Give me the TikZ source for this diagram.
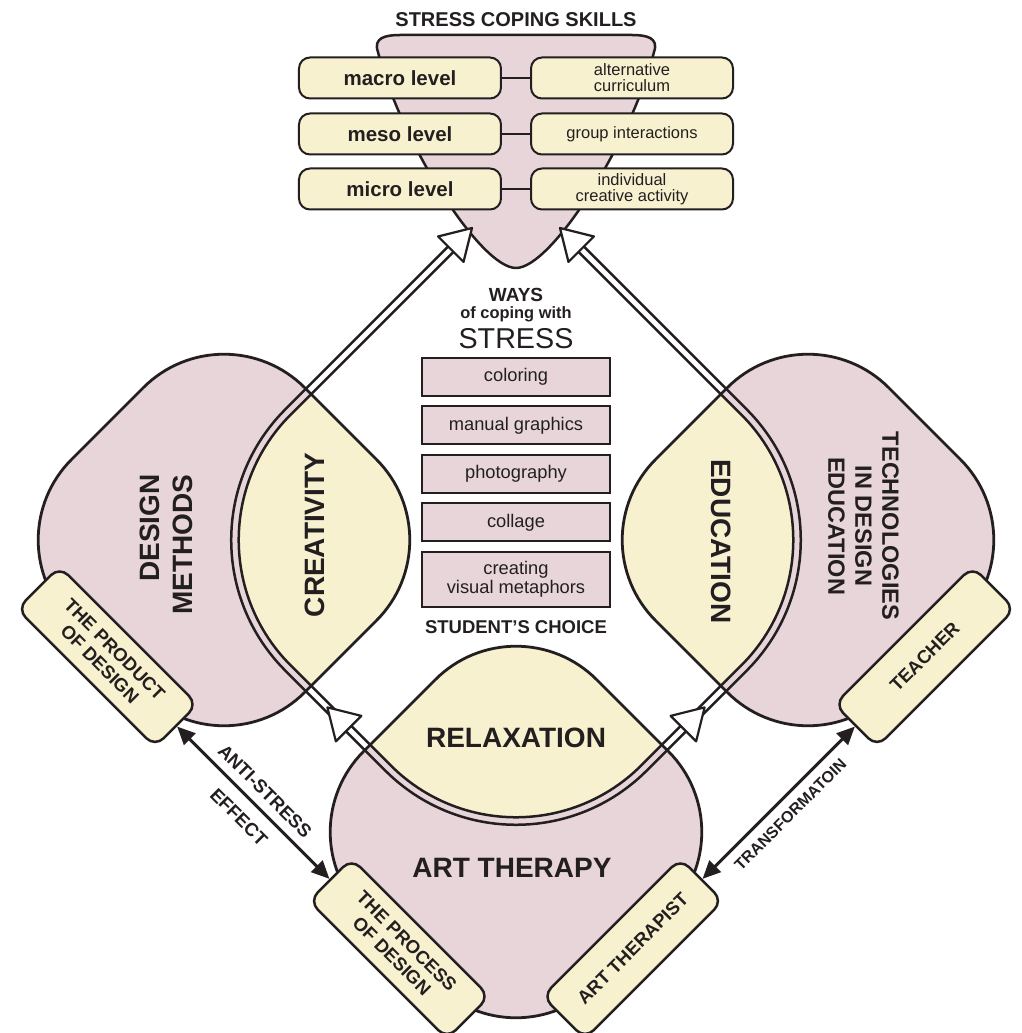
\documentclass[tikz,border=0pt]{standalone}
\usepackage{fontspec}
\setmainfont{Liberation Sans}
\usetikzlibrary{arrows.meta}

\definecolor{ink}{RGB}{35,31,32}
\definecolor{mauve}{RGB}{231,213,217}
\definecolor{cream}{RGB}{248,241,208}

\newcommand{\fs}[2]{\fontsize{#1}{#2}\selectfont}
% rounded diamond of the three big fields, round (0,0)
\newcommand{\blobpath}{(116.5,116.5) -- (0,233) -- (-233,0) -- (0,-233) -- (233,0) -- (116.5,116.5)}
% inner side of the double line (cream parts)
\newcommand{\ringpath}{(-175.2,175.2) -- (-350.3,0) -- (0,-350.3) -- (350.3,0) -- (0,350.3) -- (-175.2,175.2)}
% hollow arrow head: tip, direction
\newcommand{\openhead}[2]{%
  \draw[ink, fill=white, line width=2.2pt, line join=round, shift={#1}, rotate=#2]
    (0,0) -- (-30,18) -- (-30,-18) -- cycle;}

\tikzset{
  field/.style={rounded corners=114pt},
  rail/.style={ink, line width=2.5pt},
  levelbox/.style={draw=ink, fill=cream, line width=2pt, rounded corners=11pt,
    minimum width=202pt, minimum height=41pt, inner sep=0pt, align=center},
  waybox/.style={draw=ink, fill=mauve, line width=2pt, minimum width=188pt,
    minimum height=38pt, inner sep=0pt, align=center, font=\fs{18.3}{19.5}},
  tab/.style={draw=ink, fill=cream, line width=2.5pt, rounded corners=12pt,
    minimum width=195pt, minimum height=60pt, inner sep=0pt, align=center,
    font=\fs{18.5}{21}\bfseries},
  bigword/.style={font=\fs{28}{33}\bfseries, inner sep=0pt, align=center},
  effect/.style={ink, line width=3pt,
    {Triangle[length=18pt,width=16pt]}-{Triangle[length=18pt,width=16pt]}},
}

\begin{document}
\begin{tikzpicture}[x=1pt, y=1pt, every node/.append style={text=ink}]
  \fill[white] (-516,-493) rectangle (506,540);
  \useasboundingbox (-516,-493) rectangle (506,540);

  % big fields, cream where they reach inside the double line
  \foreach \cx/\cy in {-292/0, 292/0, 0/-292} {
    \fill[mauve, field, shift={(\cx,\cy)}] \blobpath;
    \begin{scope}
      \clip[rounded corners=177pt] \ringpath;
      \fill[cream, field, shift={(\cx,\cy)}] \blobpath;
    \end{scope}
    \draw[ink, line width=2.8pt, field, shift={(\cx,\cy)}] \blobpath;
  }

  % stress coping skills
  \filldraw[fill=mauve, draw=ink, line width=2.5pt, line join=round]
    (0,272) .. controls (-36,272) and (-116,400) .. (-138,488)
    .. controls (-143,502) and (-131,505) .. (-116,505) -- (116,505)
    .. controls (131,505) and (143,502) .. (138,488)
    .. controls (116,400) and (36,272) .. (0,272) -- cycle;
  \node[font=\fs{20}{20}\bfseries, anchor=base] (skills) at (0,513.3) {STRESS COPING SKILLS};
  \node[levelbox, font=\fs{20.5}{20}\bfseries] (macro) at (-116,462) {macro level};
  \node[levelbox, font=\fs{20.5}{20}\bfseries] (meso) at (-116,406) {meso level};
  \node[levelbox, font=\fs{20.5}{20}\bfseries] (micro) at (-116,351) {micro level};
  \node[levelbox, font=\fs{16.5}{16}] (curriculum) at (116,462) {alternative\\curriculum};
  \node[levelbox, font=\fs{16.5}{16}] (group) at (116,406) {group interactions};
  \node[levelbox, font=\fs{16.5}{16}] (individual) at (116,351) {individual\\creative activity};
  \draw[ink, line width=2pt] (macro) -- (curriculum);
  \draw[ink, line width=2pt] (meso) -- (group);
  \draw[ink, line width=2pt] (micro) -- (individual);

  % double line (outer and inner rail) with hollow heads
  \draw[rail, rounded corners=184.75pt]
    (-65.05,296.25) -- (-361.3,0) -- (0,-361.3) -- (361.3,0) -- (65.05,296.25);
  \draw[rail, rounded corners=177.25pt]
    (-59.75,290.95) -- (-350.7,0) -- (0,-350.7) -- (350.7,0) -- (59.75,290.95);
  \openhead{(-44,312)}{45}
  \openhead{(44,312)}{135}
  \openhead{(-188.6,-167.4)}{135}
  \openhead{(188.6,-167.4)}{45}

  % ways of coping
  \node[font=\fs{19}{19}\bfseries, anchor=base] (ways) at (0,238) {WAYS};
  \node[font=\fs{16.4}{16}\bfseries, anchor=base] (coping) at (0,221) {of coping with};
  \node[font=\fs{28.7}{29}, anchor=base] (stress) at (0,191.7) {STRESS};
  \foreach \y/\way [count=\i] in {163/coloring, 114.5/manual graphics, 66/photography, 17.5/collage}
    \node[waybox] (way\i) at (0,\y) {\way};
  \node[waybox, minimum height=55pt] (way5) at (0,-39.5) {creating\\visual metaphors};
  \node[font=\fs{18.5}{19}\bfseries, anchor=base] (choice) at (0,-93.3) {STUDENT’S CHOICE};

  % field names
  \node[bigword, rotate=90, align=right] (methods) at (-349.5,-4.5) {DESIGN\\METHODS};
  \node[bigword, rotate=90] (creativity) at (-201,5) {CREATIVITY};
  \node[bigword, rotate=-90] (education) at (205,-1.5) {EDUCATION};
  \node[bigword, rotate=-90, font=\fs{23.5}{27}\bfseries] (technologies) at (347.5,14)
    {TECHNOLOGIES\\IN DESIGN\\EDUCATION};
  \node[bigword, anchor=base] (relaxation) at (0,-207) {RELAXATION};
  \node[bigword, anchor=base] (arttherapy) at (-4,-337) {ART THERAPY};

  % tabs
  \node[tab, rotate=-45] (product) at (-408.7,-116.7) {THE PRODUCT\\OF DESIGN};
  \node[tab, rotate=45] (teacher) at (408.7,-116.7) {TEACHER};
  \node[tab, rotate=-45] (process) at (-116.7,-408.7) {THE PROCESS\\OF DESIGN};
  \node[tab, rotate=45] (arttherapist) at (116.7,-408.7) {ART THERAPIST};

  \draw[effect] (product.east) -- (process.west)
    node[midway, sloped, above=5pt, font=\fs{18.5}{19}\bfseries] (antistress) {ANTI-STRESS}
    node[midway, sloped, below=9pt, font=\fs{18.5}{19}\bfseries] (effectword) {EFFECT};
  \draw[effect] (arttherapist.east) -- (teacher.west)
    node[midway, sloped, below=6pt, font=\fs{16}{16}\bfseries] (transform) {TRANSFORMATOIN};
\end{tikzpicture}
\end{document}
